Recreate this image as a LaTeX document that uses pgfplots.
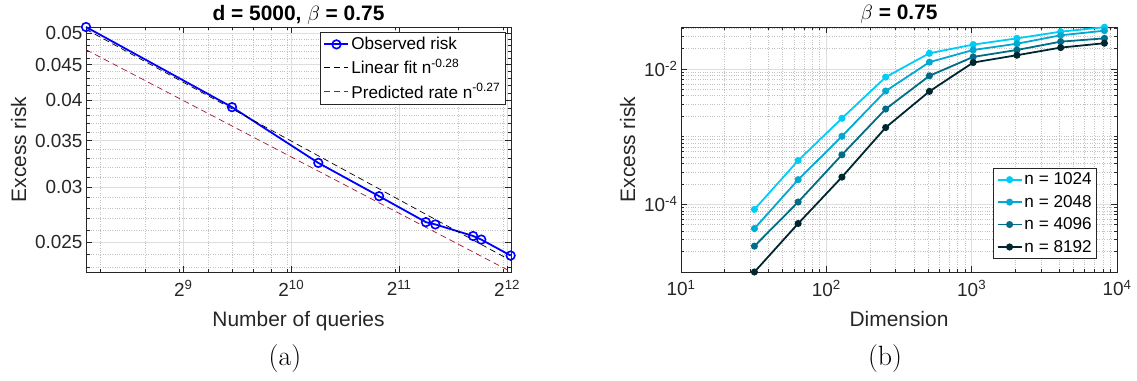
\documentclass[border=0pt]{standalone}
\usepackage{fontspec}
\usepackage{pgfplots}
\pgfplotsset{compat=1.18}
\newfontfamily\arial{Liberation Sans}
\definecolor{axgray}{rgb}{0.15,0.15,0.15}
\definecolor{obsblue}{rgb}{0,0,1}
\definecolor{fitred}{rgb}{0.64,0.08,0.18}
\definecolor{cA}{RGB}{0,204,245}
\definecolor{cB}{RGB}{0,168,210}
\definecolor{cC}{RGB}{0,108,135}
\definecolor{cD}{RGB}{0,38,48}

\pgfplotstableread{
n y
274 0.0510
700 0.0391
1218 0.0325
1800 0.0291
2431 0.0267
2583 0.0265
3293 0.0255
3470 0.0252
4190 0.0239
}\obs

\pgfplotstableread{
d a b c e
32 8.4e-5 4.38e-5 2.41e-5 1.0e-5
64 4.43e-4 2.31e-4 1.08e-4 5.2e-5
128 1.86e-3 1.01e-3 5.38e-4 2.52e-4
256 7.55e-3 4.70e-3 2.55e-3 1.36e-3
512 0.0170 0.01256 7.89e-3 4.65e-3
1024 0.0228 0.0190 0.0150 0.0124
2048 0.0282 0.0235 0.0190 0.0159
4096 0.0354 0.0313 0.0252 0.0206
8192 0.0412 0.0366 0.0282 0.0239
}\risk

\tikzset{ttl/.style={font=\arial\bfseries\fontsize{21}{23}\selectfont, text=black, anchor=base, yshift=7bp, inner sep=0pt}}

\pgfplotsset{
  mstyle/.style={
    scale only axis, clip=false,
    axis line style={axgray, line width=0.6bp},
    tick style={axgray, line width=0.6bp},
    major tick length=6bp, minor tick length=3.5bp,
    tick align=inside, xtick pos=both, ytick pos=both,
    grid=both,
    major grid style={black!13, line width=0.6bp},
    minor grid style={black!24, dotted, line width=0.6bp},
    tick label style={font=\arial\fontsize{19}{21}\selectfont, text=axgray},
    xticklabel style={yshift=-5bp},
    label style={font=\arial\fontsize{21}{23}\selectfont, text=axgray},
    xlabel style={yshift=-8bp},
    ylabel style={yshift=2bp},
    /pgf/number format/assume math mode=true,
    legend style={font=\arial\fontsize{17.2}{19}\selectfont, draw=axgray, line width=0.6bp,
      inner xsep=3bp, inner ysep=3bp},
    legend cell align=left,
    legend image code/.code={\draw[mark repeat=2,mark phase=2] plot coordinates {(0bp,0bp)(12bp,0bp)(24bp,0bp)};},
  },
}

\begin{document}
\begin{tikzpicture}
\begin{axis}[mstyle,
  at={(86bp,109bp)}, anchor=south west, width=425bp, height=245bp,
  xmode=log, ymode=log,
  xmin=274, xmax=4200, ymin=0.02263, ymax=0.0510,
  xtick={512,1024,2048,4096},
  xticklabels={2\textsuperscript{9},2\textsuperscript{10},2\textsuperscript{11},2\textsuperscript{12}},
  minor xtick={300,400,500,600,700,800,900,1000,2000,3000,4000},
  ytick={0.025,0.03,0.035,0.04,0.045,0.05},
  yticklabels={0.025,0.03,0.035,0.04,0.045,0.05},
  minor ytick={0.023,0.024,0.026,0.027,0.028,0.029,0.031,0.032,0.033,0.034,0.036,0.037,0.038,0.039,0.041,0.042,0.043,0.044,0.046,0.047,0.048,0.049},
  xlabel={Number of queries}, ylabel={Excess risk},
  legend style={at={(0.987,0.979)}, anchor=north east, row sep=4bp},
]
\addplot[obsblue, line width=1.8bp, mark=o, mark size=4.3bp, mark options={line width=1.6bp}] table[x=n,y=y] {\obs};
\addlegendentry{Observed risk}
\addplot[black, dashed, line width=0.7bp, dash pattern=on 6bp off 4bp] coordinates {(274,0.0506) (4200,0.0235)};
\addlegendentry{Linear fit n\textsuperscript{-0.28}}
\addplot[fitred, dashed, line width=0.7bp, dash pattern=on 6bp off 4bp] coordinates {(274,0.0473) (4200,0.02265)};
\addlegendentry{Predicted rate n\textsuperscript{-0.27}}
\node[ttl] at (rel axis cs:0.5,1) {d = 5000, $\beta$ = 0.75};
\end{axis}

\begin{axis}[mstyle,
  at={(681bp,109bp)}, anchor=south west, width=436bp, height=245bp,
  xmode=log, ymode=log,
  xmin=10, xmax=10000, ymin=1e-5, ymax=0.0415,
  xtick={10,100,1000,10000},
  xticklabels={10\textsuperscript{1},10\textsuperscript{2},10\textsuperscript{3},10\textsuperscript{4}},
  minor xtick={20,30,40,50,60,70,80,90,200,300,400,500,600,700,800,900,2000,3000,4000,5000,6000,7000,8000,9000},
  ytick={1e-4,1e-2},
  yticklabels={10\textsuperscript{-4},10\textsuperscript{-2}},
  minor ytick={2e-5,3e-5,4e-5,5e-5,6e-5,7e-5,8e-5,9e-5,2e-4,3e-4,4e-4,5e-4,6e-4,7e-4,8e-4,9e-4,1e-3,2e-3,3e-3,4e-3,5e-3,6e-3,7e-3,8e-3,9e-3,2e-2,3e-2,4e-2},
  xlabel={Dimension}, ylabel={Excess risk},
  legend style={at={(0.954,0.053)}, anchor=south east, row sep=5bp},
]
\addplot[cA, line width=1.8bp, mark=*, mark size=2.6bp] table[x=d,y=a] {\risk};
\addlegendentry{n = 1024}
\addplot[cB, line width=1.8bp, mark=*, mark size=2.6bp] table[x=d,y=b] {\risk};
\addlegendentry{n = 2048}
\addplot[cC, line width=1.8bp, mark=*, mark size=2.6bp] table[x=d,y=c] {\risk};
\addlegendentry{n = 4096}
\addplot[cD, line width=1.8bp, mark=*, mark size=2.6bp] table[x=d,y=e] {\risk};
\addlegendentry{n = 8192}
\node[ttl] at (rel axis cs:0.5,1) {$\beta$ = 0.75};
\end{axis}

\node[font=\fontsize{28}{30}\selectfont] at (285bp,22bp) {(a)};
\node[font=\fontsize{28}{30}\selectfont] at (885bp,22bp) {(b)};
\pgfresetboundingbox
\useasboundingbox (0,0) rectangle (1137bp,381bp);
\end{tikzpicture}
\end{document}
